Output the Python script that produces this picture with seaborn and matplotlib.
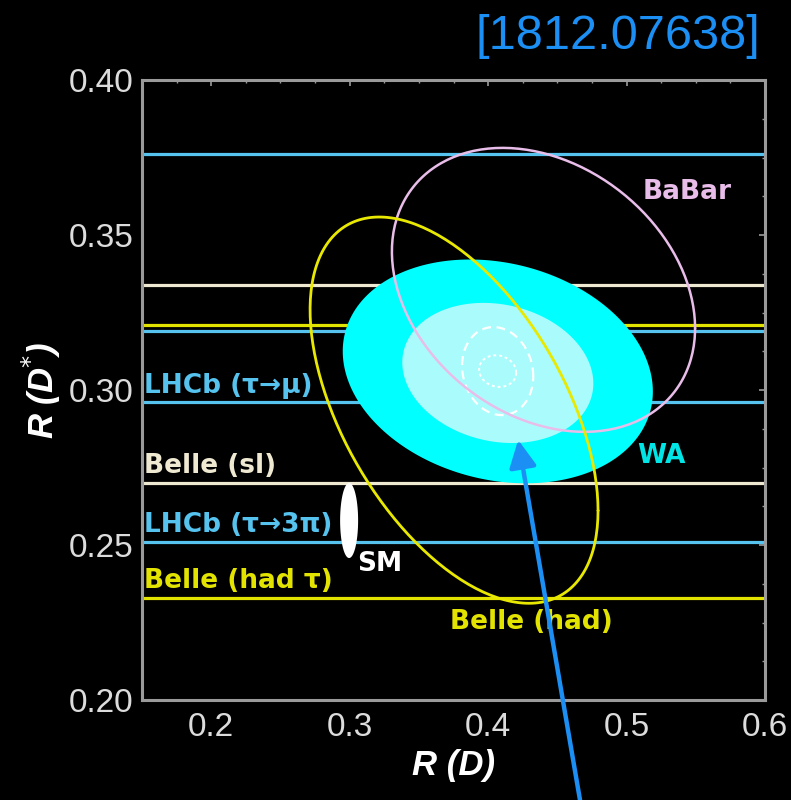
import matplotlib
matplotlib.use("Agg")
import matplotlib.pyplot as plt
import numpy as np
import pandas as pd
import seaborn as sns

# R(D*) measurements drawn as +-1 sigma horizontal lines (lower, upper)
meas_names = ["LHCb (τ→μ)", "Belle (sl)", "LHCb (τ→3π)", "Belle (had τ)"]
meas_low = [0.296, 0.270, 0.251, 0.233]
meas_high = [0.376, 0.334, 0.319, 0.321]
meas_colors = ["#56c2ee", "#efe9d2", "#56c2ee", "#e3e300"]

# 2D contours: centre, half extents and correlation
ell_names = ["WA outer", "WA inner", "proj dashed", "proj dotted", "BaBar", "Belle (had)", "SM"]
ell_cx = [0.407, 0.407, 0.4069, 0.4069, 0.440, 0.3754, 0.2996]
ell_cy = [0.306, 0.3055, 0.3061, 0.3061, 0.3323, 0.2935, 0.2579]
ell_ax = [0.112, 0.069, 0.0257, 0.0134, 0.1095, 0.104, 0.0065]
ell_ay = [0.0361, 0.0226, 0.0142, 0.0051, 0.0458, 0.0623, 0.0121]
ell_rho = [-0.18, -0.15, -0.12, -0.1, -0.27, -0.52, 0.0]

# text labels for the contours
tag_names = ["BaBar", "WA", "SM", "Belle (had)"]
tag_x = [0.5113, 0.5077, 0.3053, 0.3725]
tag_y = [0.3639, 0.2787, 0.2439, 0.2252]
tag_colors = ["#e9bde9", "#00e6e6", "#ffffff", "#e3e300"]

x_ticks = [0.2, 0.3, 0.4, 0.5, 0.6]
y_ticks = [0.20, 0.25, 0.30, 0.35, 0.40]


def ellipse_df(cx, cy, ax_, ay, rho, n=240):
    t = np.linspace(0, 2 * np.pi, n)
    x = cx + ax_ * np.cos(t)
    y = cy + ay * (rho * np.cos(t) + np.sqrt(1 - rho ** 2) * np.sin(t))
    return pd.DataFrame({"x": x, "y": y})


sns.set_theme(style="dark", rc={
    "axes.facecolor": "black",
    "figure.facecolor": "black",
    "axes.edgecolor": "#9a9a9a",
    "xtick.color": "#9a9a9a",
    "ytick.color": "#9a9a9a",
})
plt.rcParams["font.family"] = ["Liberation Sans", "DejaVu Sans"]

fig = plt.figure(figsize=(7.91, 8.0), dpi=100)
ax = fig.add_axes([142 / 791, 1 - 700 / 800, (765 - 142) / 791, 620 / 800])
ax.set_facecolor("black")

# horizontal measurement lines
for lo, hi, c in zip(meas_low, meas_high, meas_colors):
    for v in (lo, hi):
        ax.axhline(v, color=c, lw=2.3, zorder=1)

shapes = {n: ellipse_df(cx, cy, a, b, r) for n, cx, cy, a, b, r in
          zip(ell_names, ell_cx, ell_cy, ell_ax, ell_ay, ell_rho)}

ax.fill(shapes["WA outer"].x, shapes["WA outer"].y, color="#00ffff", lw=0, zorder=2)
ax.fill(shapes["WA inner"].x, shapes["WA inner"].y, color="#aafcfc", lw=0, zorder=3)
sns.lineplot(data=shapes["proj dashed"], x="x", y="y", sort=False, estimator=None,
             color="white", lw=1.6, ls=(0, (4, 2.5)), ax=ax, zorder=4)
sns.lineplot(data=shapes["proj dotted"], x="x", y="y", sort=False, estimator=None,
             color="white", lw=1.4, ls=(0, (1.5, 1.5)), ax=ax, zorder=4)
sns.lineplot(data=shapes["BaBar"], x="x", y="y", sort=False, estimator=None,
             color="#e9bde9", lw=1.8, ax=ax, zorder=5)
sns.lineplot(data=shapes["Belle (had)"], x="x", y="y", sort=False, estimator=None,
             color="#e8e800", lw=2.0, ax=ax, zorder=5)
ax.fill(shapes["SM"].x, shapes["SM"].y, color="white", lw=0, zorder=5)

bold = dict(family=["DejaVu Sans"], fontweight="bold", fontsize=19)
for name, lo, c in zip(meas_names, meas_low, meas_colors):
    ax.text(0.1515, lo + 0.0012, name, color=c, va="bottom", ha="left", zorder=6, **bold)
for name, x, y, c in zip(tag_names, tag_x, tag_y, tag_colors):
    ax.text(x, y, name, color=c, va="center", ha="left", zorder=6, **bold)

ax.set_xlim(0.15, 0.6)
ax.set_ylim(0.2, 0.4)
ax.set_xticks(x_ticks)
ax.set_yticks(y_ticks)
ax.set_xticklabels([f"{v:.1f}" for v in x_ticks])
ax.set_yticklabels([f"{v:.2f}" for v in y_ticks])
ax.set_xticks(np.arange(0.15, 0.601, 0.025), minor=True)
ax.set_yticks(np.arange(0.2, 0.401, 0.0125), minor=True)
ax.tick_params(which="both", direction="in", top=True, right=True, color="#9a9a9a")
ax.tick_params(which="major", length=4, width=1.2, labelsize=24, labelcolor="#dcdcdc")
ax.tick_params(axis="x", which="major", pad=9)
ax.tick_params(axis="y", which="major", pad=6)
ax.tick_params(which="minor", length=2.5, width=1)
for sp in ax.spines.values():
    sp.set_color("#9a9a9a")
    sp.set_linewidth(2.2)
    sp.set_visible(True)
ax.grid(False)

ax.set_xlabel("R (D)", color="white", fontsize=25, fontweight="bold", fontstyle="italic", labelpad=4)
ax.set_ylabel("R (D$^{*}$)", color="white", fontsize=25, fontweight="bold", fontstyle="italic", labelpad=4)

fig.text(0.961, 0.954, "[1812.07638]", color="#1c8ff5", fontsize=35, ha="right", va="center")

ax.annotate("", xy=(0.4217, 0.2839), xycoords="data",
            xytext=(580 / 791, 0.0), textcoords="figure fraction",
            arrowprops=dict(arrowstyle="-|>,head_length=0.4,head_width=0.2",
                            mutation_scale=41, color="#1c8ff5", lw=3.2,
                            shrinkA=0, shrinkB=0),
            annotation_clip=False, zorder=10)

fig.savefig("out.png", dpi=100, facecolor="black")
